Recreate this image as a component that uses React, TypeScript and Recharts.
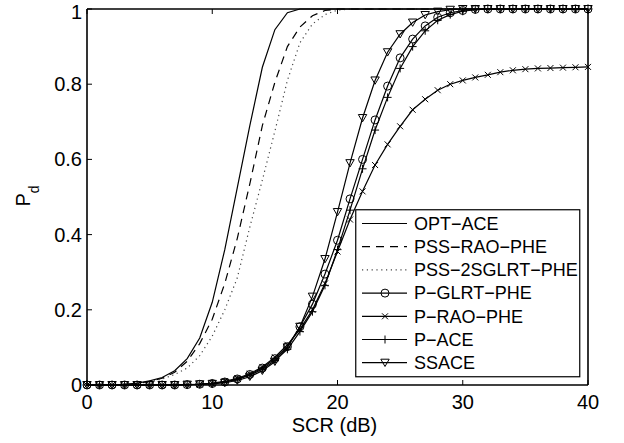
import { LineChart, Line, XAxis, YAxis, Legend } from "recharts";

const FONT = '"Liberation Sans", Arial, Helvetica, sans-serif';

// SCR in dB, one point per dB
const SCR = [
  0, 1, 2, 3, 4, 5, 6, 7, 8, 9, 10, 11, 12, 13, 14, 15, 16, 17, 18, 19, 20,
  21, 22, 23, 24, 25, 26, 27, 28, 29, 30, 31, 32, 33, 34, 35, 36, 37, 38, 39, 40,
];

const OPT_ACE = [
  0, 0, 0.001, 0.002, 0.005, 0.011, 0.02, 0.038, 0.07, 0.125, 0.22, 0.36, 0.525, 0.69, 0.845, 0.945, 0.99, 1, 1, 1, 1,
  1, 1, 1, 1, 1, 1, 1, 1, 1, 1, 1, 1, 1, 1, 1, 1, 1, 1, 1, 1,
];
const PSS_RAO_PHE = [
  0, 0, 0, 0.001, 0.004, 0.009, 0.018, 0.034, 0.063, 0.11, 0.175, 0.27, 0.39, 0.535, 0.69, 0.805, 0.9, 0.952, 0.982, 0.996, 1,
  1, 1, 1, 1, 1, 1, 1, 1, 1, 1, 1, 1, 1, 1, 1, 1, 1, 1, 1, 1,
];
const PSS_2SGLRT_PHE = [
  0, 0, 0, 0, 0.003, 0.008, 0.016, 0.028, 0.045, 0.078, 0.13, 0.2, 0.285, 0.42, 0.545, 0.675, 0.81, 0.91, 0.96, 0.985, 0.997,
  1, 1, 1, 1, 1, 1, 1, 1, 1, 1, 1, 1, 1, 1, 1, 1, 1, 1, 1, 1,
];
const P_GLRT_PHE = [
  0, 0, 0, 0, 0, 0, 0, 0, 0.001, 0.002, 0.004, 0.008, 0.016, 0.028, 0.045, 0.07, 0.102, 0.155, 0.215, 0.295, 0.385,
  0.495, 0.6, 0.705, 0.795, 0.87, 0.92, 0.955, 0.978, 0.99, 0.996, 0.999, 1, 1, 1, 1, 1, 1, 1, 1, 1,
];
const P_RAO_PHE = [
  0, 0, 0, 0, 0, 0, 0, 0, 0.001, 0.002, 0.005, 0.01, 0.018, 0.03, 0.048, 0.074, 0.107, 0.148, 0.2, 0.27, 0.355,
  0.44, 0.515, 0.585, 0.64, 0.688, 0.732, 0.76, 0.784, 0.8, 0.81, 0.818, 0.825, 0.832, 0.837, 0.84, 0.842, 0.843, 0.844, 0.845, 0.846,
];
const P_ACE = [
  0, 0, 0, 0, 0, 0, 0, 0, 0.001, 0.002, 0.004, 0.008, 0.015, 0.026, 0.042, 0.065, 0.095, 0.142, 0.195, 0.265, 0.36,
  0.465, 0.575, 0.678, 0.765, 0.842, 0.9, 0.942, 0.97, 0.985, 0.994, 0.998, 1, 1, 1, 1, 1, 1, 1, 1, 1,
];
const SSACE = [
  0, 0, 0, 0, 0, 0, 0, 0, 0.001, 0.002, 0.003, 0.006, 0.012, 0.022, 0.038, 0.062, 0.1, 0.155, 0.235, 0.335, 0.46,
  0.59, 0.71, 0.81, 0.885, 0.933, 0.964, 0.984, 0.993, 0.998, 1, 1, 1, 1, 1, 1, 1, 1, 1, 1, 1,
];

const X_TICKS = [0, 10, 20, 30, 40];
const Y_TICKS = [0, 0.2, 0.4, 0.6, 0.8, 1];
const Y_TICK_LABELS = ["0", "0.2", "0.4", "0.6", "0.8", "1"];

type MarkerKind = "none" | "circle" | "x" | "plus" | "tri";

const SERIES: { key: string; name: string; values: number[]; dash?: string; color: string; marker: MarkerKind }[] = [
  { key: "optAce", name: "OPT−ACE", values: OPT_ACE, color: "#000", marker: "none" },
  { key: "pssRao", name: "PSS−RAO−PHE", values: PSS_RAO_PHE, dash: "8 6", color: "#000", marker: "none" },
  { key: "pss2s", name: "PSS−2SGLRT−PHE", values: PSS_2SGLRT_PHE, dash: "1.2 3.6", color: "#444", marker: "none" },
  { key: "pGlrt", name: "P−GLRT−PHE", values: P_GLRT_PHE, color: "#000", marker: "circle" },
  { key: "pRao", name: "P−RAO−PHE", values: P_RAO_PHE, color: "#000", marker: "x" },
  { key: "pAce", name: "P−ACE", values: P_ACE, color: "#000", marker: "plus" },
  { key: "ssace", name: "SSACE", values: SSACE, color: "#000", marker: "tri" },
];

const data = SCR.map((x, i) => {
  const row: Record<string, number> = { scr: x };
  SERIES.forEach((s) => (row[s.key] = s.values[i]));
  return row;
});

function Marker({ kind, cx, cy }: { kind: MarkerKind; cx: number; cy: number }) {
  const st = { stroke: "#000", strokeWidth: 1, fill: "none" };
  if (kind === "circle") return <circle cx={cx} cy={cy} r={4} {...st} />;
  if (kind === "x") {
    const d = 3;
    return <path d={`M${cx - d},${cy - d}L${cx + d},${cy + d}M${cx - d},${cy + d}L${cx + d},${cy - d}`} {...st} />;
  }
  if (kind === "plus") {
    const d = 4;
    return <path d={`M${cx - d},${cy}L${cx + d},${cy}M${cx},${cy - d}L${cx},${cy + d}`} {...st} />;
  }
  if (kind === "tri") {
    return <path d={`M${cx - 4.2},${cy - 3.5}L${cx + 4.2},${cy - 3.5}L${cx},${cy + 3.8}Z`} {...st} />;
  }
  return null;
}

const BottomTick = (p: any) => (
  <g>
    <line x1={p.x} y1={p.y} x2={p.x} y2={p.y - 5} stroke="#000" strokeWidth={1} />
    <text x={p.x} y={p.y + 24} textAnchor="middle" fontFamily={FONT} fontSize={20} fill="#000">
      {p.payload.value}
    </text>
  </g>
);

const LeftTick = (p: any) => {
  const idx = Y_TICKS.indexOf(p.payload.value);
  // keep the top label inside the picture
  const ty = Math.max(p.y, 12);
  return (
    <g>
      <line x1={p.x} y1={p.y} x2={p.x + 5} y2={p.y} stroke="#000" strokeWidth={1} />
      <text x={p.x - 5} y={ty} dy="0.35em" textAnchor="end" fontFamily={FONT} fontSize={20} fill="#000">
        {Y_TICK_LABELS[idx]}
      </text>
    </g>
  );
};

const TopTick = (p: any) => <line x1={p.x} y1={p.y} x2={p.x} y2={p.y + 5} stroke="#000" strokeWidth={1} />;
const RightTick = (p: any) => <line x1={p.x} y1={p.y} x2={p.x - 5} y2={p.y} stroke="#000" strokeWidth={1} />;

function LegendBox() {
  const rowH = 23.2;
  return (
    <svg width={226} height={169} style={{ display: "block" }}>
      <rect x={0.75} y={0.75} width={224} height={167} fill="#fff" stroke="#000" strokeWidth={1.2} />
      {SERIES.map((s, i) => {
        const cy = 14.5 + i * rowH;
        return (
          <g key={s.key}>
            <line x1={7} y1={cy} x2={52} y2={cy} stroke={s.color} strokeWidth={1.2} strokeDasharray={s.dash} />
            <Marker kind={s.marker} cx={30} cy={cy} />
            <text x={59} y={cy} dy="0.35em" fontFamily={FONT} fontSize={18} fill="#000">
              {s.name}
            </text>
          </g>
        );
      })}
    </svg>
  );
}

export default function App() {
  return (
    <div style={{ position: "absolute", left: 0, top: 0, background: "#fff" }}>
      <LineChart width={624} height={443} data={data} margin={{ top: 8, right: 35, bottom: 1, left: 0 }}>
        <XAxis
          dataKey="scr"
          type="number"
          domain={[0, 40]}
          ticks={X_TICKS}
          interval={0}
          height={57}
          tickSize={0}
          tickMargin={0}
          tickLine={false}
          axisLine={{ stroke: "#000", strokeWidth: 1.6 }}
          tick={BottomTick}
          label={{
            content: ({ viewBox }: any) => (
              <text
                x={viewBox.x + viewBox.width / 2 - 3}
                y={viewBox.y + 47}
                textAnchor="middle"
                fontFamily={FONT}
                fontSize={20}
                fill="#000"
              >
                SCR (dB)
              </text>
            ),
          }}
        />
        <XAxis
          xAxisId="top"
          orientation="top"
          type="number"
          domain={[0, 40]}
          ticks={X_TICKS}
          interval={0}
          height={1}
          tickSize={0}
          tickMargin={0}
          tickLine={false}
          axisLine={{ stroke: "#000", strokeWidth: 1.6 }}
          tick={TopTick}
        />
        <YAxis
          type="number"
          domain={[0, 1]}
          ticks={Y_TICKS}
          interval={0}
          width={87}
          tickSize={0}
          tickMargin={0}
          tickLine={false}
          axisLine={{ stroke: "#000", strokeWidth: 1.6 }}
          tick={LeftTick}
          label={{
            content: ({ viewBox }: any) => (
              <text
                transform={`translate(${viewBox.x + 30},${viewBox.y + viewBox.height / 2 - 1}) rotate(-90)`}
                textAnchor="middle"
                fontFamily={FONT}
                fontSize={20}
                fill="#000"
              >
                P
                <tspan dy={9} fontSize={14}>
                  d
                </tspan>
              </text>
            ),
          }}
        />
        <YAxis
          yAxisId="right"
          orientation="right"
          type="number"
          domain={[0, 1]}
          ticks={Y_TICKS}
          interval={0}
          width={1}
          tickSize={0}
          tickMargin={0}
          tickLine={false}
          axisLine={{ stroke: "#000", strokeWidth: 1.6 }}
          tick={RightTick}
        />
        {SERIES.map((s) => (
          <Line
            key={s.key}
            dataKey={s.key}
            name={s.name}
            type="linear"
            stroke={s.color}
            strokeWidth={1.2}
            strokeDasharray={s.dash}
            isAnimationActive={false}
            dot={
              s.marker === "none"
                ? false
                : (p: any) => <Marker key={`${s.key}-${p.index}`} kind={s.marker} cx={p.cx} cy={p.cy} />
            }
            activeDot={false}
          />
        ))}
        <Legend
          layout="vertical"
          align="center"
          verticalAlign="middle"
          content={() => <LegendBox />}
          wrapperStyle={{ left: 355, top: 209, width: 226, height: 169 }}
        />
      </LineChart>
    </div>
  );
}
